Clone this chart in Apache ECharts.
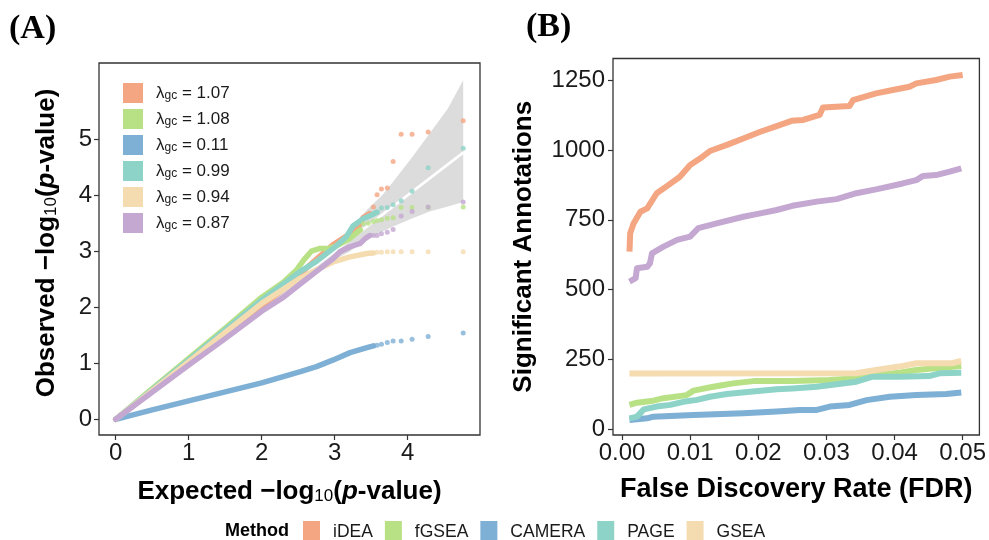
<!DOCTYPE html>
<html>
<head>
<meta charset="utf-8">
<script src="https://cdn.jsdelivr.net/npm/echarts@6/dist/echarts.min.js"></script>
<style>
html, body { margin: 0; padding: 0; background: #ffffff; }
#chart { width: 989px; height: 540px; }
</style>
</head>
<body>
<div id="chart"></div>
<script>
// Methods, palette and genomic-control lambdas
const methods = ['iDEA', 'fGSEA', 'CAMERA', 'PAGE', 'GSEA', 'Other'];
const palette = ['#F4A582', '#B8E186', '#7EAFD4', '#8DD3C7', '#F5DCB0', '#C4A8D2'];
const lambdaGC = ['1.07', '1.08', '0.11', '0.99', '0.94', '0.87'];

// Panel A: QQ plot, [expected, observed] -log10(p); dense body and sparse tail
const qqBodyIDEA = [[0,0],[1,1.0],[1.5,1.49],[2,2.02],[2.3,2.33],[2.53,2.6],[2.75,2.86],[2.98,3.12],[3.16,3.27],[3.32,3.43],[3.39,3.6],[3.48,3.67]];
const qqTailIDEA = [[3.53,3.79],[3.58,4.01],[3.64,4.11],[3.72,4.13],[3.80,4.60],[3.91,5.09],[4.06,5.09],[4.28,5.13],[4.76,5.33]];
const qqBodyFGSEA = [[0,0],[0.5,0.55],[1,1.09],[1.5,1.63],[2,2.18],[2.3,2.45],[2.48,2.67],[2.58,2.85],[2.68,3.0],[2.8,3.05],[2.92,3.05],[3.0,3.08],[3.1,3.15],[3.2,3.22],[3.35,3.38]];
const qqTailFGSEA = [[3.39,3.49],[3.46,3.50],[3.53,3.53],[3.58,3.55],[3.64,3.56],[3.72,3.59],[3.80,3.60],[3.91,3.78],[4.06,3.78],[4.28,3.78],[4.76,3.79]];
const qqBodyCAMERA = [[0,0],[0.5,0.17],[1,0.33],[1.5,0.49],[2,0.65],[2.53,0.85],[2.75,0.94],[2.98,1.06],[3.21,1.19],[3.44,1.28],[3.53,1.31]];
const qqTailCAMERA = [[3.58,1.32],[3.64,1.34],[3.72,1.37],[3.80,1.40],[3.91,1.40],[4.06,1.43],[4.28,1.48],[4.76,1.54]];
const qqBodyPAGE = [[0,0],[1,1.06],[2,2.13],[2.53,2.64],[2.75,2.82],[2.98,3.05],[3.16,3.26],[3.25,3.45],[3.39,3.58],[3.51,3.65],[3.58,3.70]];
const qqTailPAGE = [[3.64,3.77],[3.72,3.78],[3.80,3.83],[3.91,3.90],[4.06,4.07],[4.28,4.49],[4.76,4.84]];
const qqBodyGSEA = [[0,0],[1,1.03],[1.5,1.55],[2,2.07],[2.53,2.52],[2.75,2.67],[2.98,2.81],[3.21,2.9],[3.44,2.96],[3.53,2.97]];
const qqTailGSEA = [[3.58,2.98],[3.64,2.98],[3.72,2.99],[3.80,2.99],[3.91,2.99],[4.06,2.99],[4.28,2.99],[4.76,2.99]];
const qqBodyOther = [[0,0],[1,0.97],[1.5,1.44],[2,1.93],[2.3,2.18],[2.53,2.42],[2.75,2.64],[2.98,2.87],[3.07,2.99],[3.21,3.08],[3.35,3.14],[3.42,3.23],[3.48,3.28]];
const qqTailOther = [[3.53,3.28],[3.58,3.28],[3.64,3.31],[3.72,3.34],[3.80,3.39],[3.91,3.63],[4.06,3.71],[4.28,3.79],[4.76,3.88]];

// 95% band around the null diagonal
const bandExpected = [2.0, 2.45, 2.75, 3.0, 3.2, 3.45, 3.65, 3.8, 4.05, 4.3, 4.55, 4.76];
const bandLower    = [1.95, 2.37, 2.64, 2.85, 2.99, 3.22, 3.35, 3.44, 3.58, 3.71, 3.80, 3.88];
const bandUpper    = [2.05, 2.54, 2.88, 3.15, 3.38, 3.75, 4.00, 4.24, 4.66, 5.10, 5.55, 6.05];

// Panel B: [FDR, number of significant annotations]
const fdrIDEA = [[0.0011,636],[0.0012,702],[0.0017,737],[0.0027,779],[0.0037,791],[0.0051,845],[0.0068,874],[0.0085,904],[0.0100,946],[0.0115,970],[0.0129,996],[0.0154,1018],[0.0178,1041],[0.0203,1065],[0.0227,1085],[0.0249,1104],[0.0266,1107],[0.0290,1125],[0.0295,1152],[0.0334,1157],[0.0339,1178],[0.0373,1202],[0.0403,1217],[0.0422,1226],[0.0432,1238],[0.0461,1250],[0.0481,1262],[0.0500,1268]];
const fdrFGSEA = [[0.0011,88],[0.0022,96],[0.0046,103],[0.0061,112],[0.0095,123],[0.0105,139],[0.0130,151],[0.0149,159],[0.0163,165],[0.0193,173],[0.0250,173],[0.0305,177],[0.0344,183],[0.0373,195],[0.0407,203],[0.0432,213],[0.0456,218],[0.0498,227]];
const fdrCAMERA = [[0.0011,34],[0.0037,40],[0.0046,46],[0.0105,52],[0.0178,58],[0.0227,64],[0.0261,70],[0.0286,70],[0.0305,82],[0.0334,88],[0.0359,105],[0.0393,117],[0.0432,123],[0.0476,127],[0.0498,132]];
const fdrPAGE = [[0.0011,40],[0.0022,46],[0.0032,72],[0.0051,82],[0.0071,88],[0.0090,99],[0.0110,106],[0.0129,117],[0.0154,127],[0.0188,135],[0.0227,144],[0.0250,147],[0.0286,153],[0.0344,171],[0.0368,189],[0.0407,189],[0.0451,191],[0.0466,201],[0.0498,203]];
const fdrGSEA = [[0.0011,200],[0.0344,201],[0.0373,213],[0.0407,225],[0.0432,237],[0.0484,237],[0.0498,245]];
const fdrOther = [[0.0011,529],[0.0020,541],[0.0022,577],[0.0037,582],[0.0041,594],[0.0044,630],[0.0061,654],[0.0081,678],[0.0100,690],[0.0112,720],[0.0139,737],[0.0178,761],[0.0203,773],[0.0227,785],[0.0250,800],[0.0286,815],[0.0315,824],[0.0344,845],[0.0373,859],[0.0412,880],[0.0432,892],[0.0442,907],[0.0461,910],[0.0481,922],[0.0498,934]];

// Tick values
const ticksExpected = [0, 1, 2, 3, 4];
const ticksObserved = [0, 1, 2, 3, 4, 5];
const ticksFDR = [0, 0.01, 0.02, 0.03, 0.04, 0.05];
const ticksCount = [0, 250, 500, 750, 1000, 1250];

const qqBodies = [qqBodyIDEA, qqBodyFGSEA, qqBodyCAMERA, qqBodyPAGE, qqBodyGSEA, qqBodyOther];
const qqTails = [qqTailIDEA, qqTailFGSEA, qqTailCAMERA, qqTailPAGE, qqTailGSEA, qqTailOther];
const fdrCurves = [fdrIDEA, fdrFGSEA, fdrCAMERA, fdrPAGE, fdrGSEA, fdrOther];

const FONT = 'Liberation Sans, Arial, Helvetica, sans-serif';
const INK = '#1a1a1a';
const FRAME = '#333333';
const TICK_FONT = 24;
const TITLE_FONT = 26;

function axisBase(ticks, labelFormatter, margin) {
  return {
    type: 'value',
    splitLine: { show: false },
    axisLine: { show: false, onZero: false },
    axisTick: { show: true, customValues: ticks, length: 5, lineStyle: { color: FRAME, width: 1.2 } },
    axisLabel: {
      customValues: ticks, fontSize: TICK_FONT, color: INK, fontFamily: FONT, margin: margin,
      formatter: labelFormatter
    }
  };
}

const titleRich = {
  b: { fontSize: TITLE_FONT, fontWeight: 'bold', color: '#000', fontFamily: FONT },
  i: { fontSize: TITLE_FONT, fontWeight: 'bold', fontStyle: 'italic', color: '#000', fontFamily: FONT },
  s: { fontSize: 17, color: '#000', fontFamily: FONT, verticalAlign: 'bottom', padding: [9, 0, 0, 0] }
};
const log10Title = (prefix) => '{b|' + prefix + ' \u2212log}{s|10}{b|(}{i|p}{b|-value)}';

const series = [];

// Null band (drawn as one polygon through the axis scales)
series.push({
  type: 'custom',
  xAxisIndex: 0, yAxisIndex: 0,
  silent: true, z: 1,
  data: [[bandExpected[0], bandLower[0]]],
  renderItem: function (params, api) {
    const pts = [];
    for (let k = 0; k < bandExpected.length; k++) pts.push(api.coord([bandExpected[k], bandUpper[k]]));
    for (let k = bandExpected.length - 1; k >= 0; k--) pts.push(api.coord([bandExpected[k], bandLower[k]]));
    return { type: 'polygon', shape: { points: pts }, style: { fill: '#dcdcdc' } };
  }
});
// Null diagonal
series.push({
  type: 'line', xAxisIndex: 0, yAxisIndex: 0, silent: true, z: 2,
  showSymbol: false,
  data: [[bandExpected[0], bandExpected[0]], [bandExpected[bandExpected.length - 1], bandExpected[bandExpected.length - 1]]],
  lineStyle: { color: '#ffffff', width: 2.6 }
});

methods.forEach((m, k) => {
  series.push({
    name: m, type: 'line', xAxisIndex: 0, yAxisIndex: 0, z: 3,
    showSymbol: false, data: qqBodies[k],
    itemStyle: { color: palette[k] },
    lineStyle: { color: palette[k], width: 5.5, cap: 'round', join: 'round' }
  });
  series.push({
    name: m, type: 'scatter', xAxisIndex: 0, yAxisIndex: 0, z: 3,
    symbolSize: 5, data: qqTails[k],
    itemStyle: { color: palette[k] }
  });
  series.push({
    name: m, type: 'line', xAxisIndex: 1, yAxisIndex: 1, z: 3,
    showSymbol: false, data: fdrCurves[k],
    itemStyle: { color: palette[k] },
    lineStyle: { color: palette[k], width: 6, cap: 'butt', join: 'round' }
  });
});

const option = {
  animation: false,
  backgroundColor: '#ffffff',
  textStyle: { fontFamily: FONT },
  title: [
    { text: '(A)', left: 9, top: 12, padding: 0, textStyle: { fontFamily: 'Liberation Serif, Times New Roman, serif', fontWeight: 'bold', fontSize: 34, color: '#000' } },
    { text: '(B)', left: 526, top: 10, padding: 0, textStyle: { fontFamily: 'Liberation Serif, Times New Roman, serif', fontWeight: 'bold', fontSize: 34, color: '#000' } },
    { text: 'Method', left: 225, top: 522, padding: 0, textStyle: { fontFamily: FONT, fontWeight: 'bold', fontSize: 18, color: '#000' } }
  ],
  legend: [
    {
      data: methods, orient: 'vertical', left: 123, top: 83, padding: 0,
      itemWidth: 20, itemHeight: 20, itemGap: 6, icon: 'rect',
      selectedMode: false,
      formatter: (name) => '{l|\u03bb}{g|gc}{t| = ' + lambdaGC[methods.indexOf(name)] + '}',
      textStyle: {
        color: INK, fontFamily: FONT,
        rich: {
          l: { fontSize: 17, color: INK, padding: [0, 0, 0, 8] },
          g: { fontSize: 12, color: INK, verticalAlign: 'bottom', padding: [6, 0, 0, 0] },
          t: { fontSize: 17, color: INK }
        }
      }
    },
    {
      data: methods.slice(0, 5), orient: 'horizontal', left: 303, top: 521, padding: 0,
      itemWidth: 17, itemHeight: 22, itemGap: 12, icon: 'rect',
      selectedMode: false,
      textStyle: { fontSize: 17.5, color: INK, fontFamily: FONT, padding: [0, 0, 0, 8] }
    }
  ],
  grid: [
    { left: 99, top: 63, width: 381, height: 372, show: true, borderColor: FRAME, borderWidth: 1.3, backgroundColor: 'transparent', containLabel: false },
    { left: 613, top: 58.5, width: 367, height: 376.5, show: true, borderColor: FRAME, borderWidth: 1.3, backgroundColor: 'transparent', containLabel: false }
  ],
  xAxis: [
    Object.assign(axisBase(ticksExpected, (v) => String(v), 6), {
      gridIndex: 0, min: -0.229, max: 4.99,
      name: log10Title('Expected'), nameLocation: 'middle', nameGap: 44,
      nameTextStyle: { rich: titleRich }
    }),
    Object.assign(axisBase(ticksFDR, (v) => v.toFixed(2), 6), {
      gridIndex: 1, min: -0.00132, max: 0.05246,
      name: 'False Discovery Rate (FDR)', nameLocation: 'middle', nameGap: 41,
      nameTextStyle: { fontSize: 27, fontWeight: 'bold', color: '#000', fontFamily: FONT }
    })
  ],
  yAxis: [
    Object.assign(axisBase(ticksObserved, (v) => String(v), 7), {
      gridIndex: 0, min: -0.28, max: 6.36,
      name: log10Title('Observed'), nameLocation: 'middle', nameGap: 39,
      nameTextStyle: { rich: titleRich, padding: [0, 0, 0, 12] }
    }),
    Object.assign(axisBase(ticksCount, (v) => String(v), 8), {
      gridIndex: 1, min: -19.7, max: 1326.9,
      name: 'Significant Annotations', nameLocation: 'middle', nameGap: 76,
      nameTextStyle: { fontSize: 26, fontWeight: 'bold', color: '#000', fontFamily: FONT }
    })
  ],
  series: series
};

const chart = echarts.init(document.getElementById('chart'), null, { renderer: 'canvas' });
chart.setOption(option);
</script>
</body>
</html>
